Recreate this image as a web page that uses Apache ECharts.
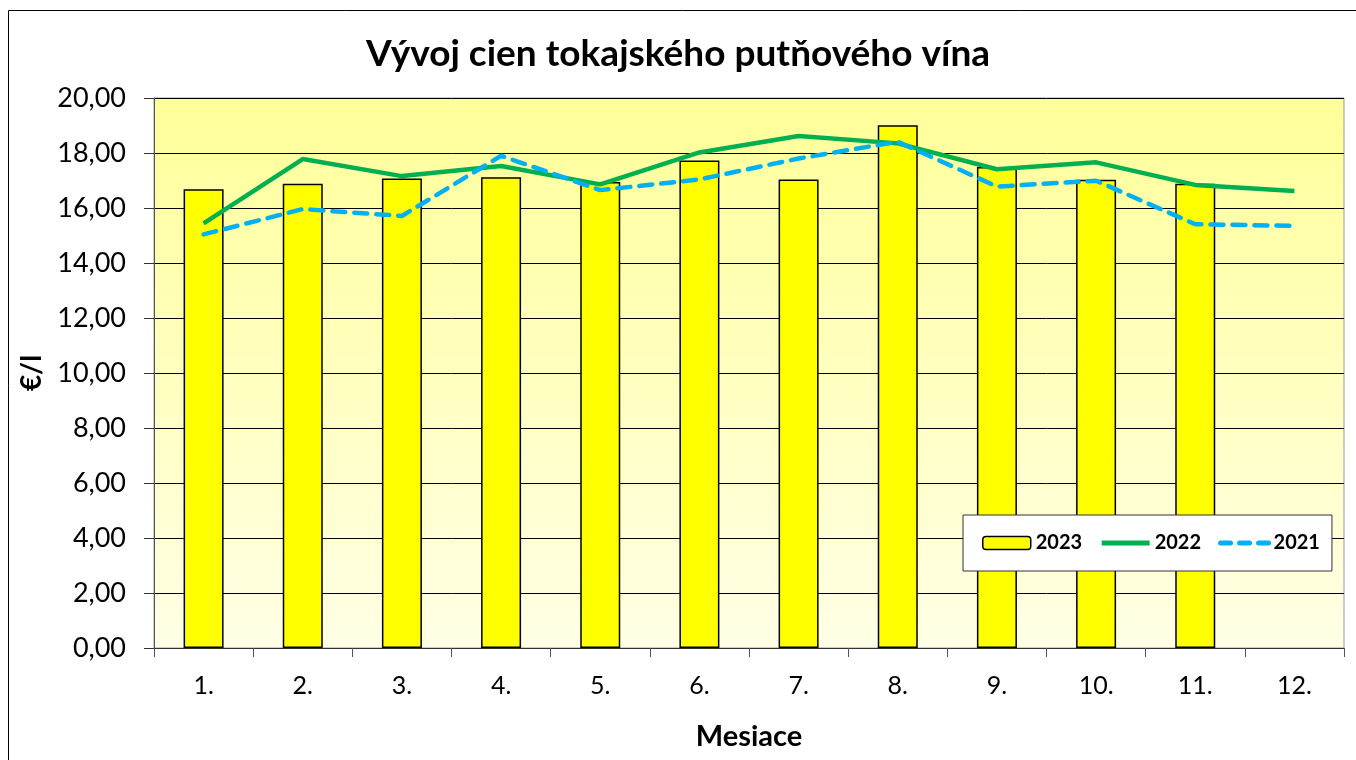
<!DOCTYPE html>
<html>
<head>
<meta charset="utf-8">
<title>Vývoj cien tokajského putňového vína</title>
<script src="https://cdn.jsdelivr.net/npm/echarts@6/dist/echarts.min.js"></script>
<style>
  html, body { margin: 0; padding: 0; background: #fff; }
  #chart { width: 1356px; height: 760px; }
</style>
</head>
<body>
<div id="chart"></div>
<script>
// --- data ---
var months = ['1.', '2.', '3.', '4.', '5.', '6.', '7.', '8.', '9.', '10.', '11.', '12.'];
var price2023 = [16.68, 16.88, 17.07, 17.12, 16.95, 17.73, 17.04, 19.01, 17.49, 17.03, 16.88, null];
var price2022 = [15.44, 17.78, 17.16, 17.53, 16.86, 18.02, 18.62, 18.35, 17.41, 17.66, 16.84, 16.62];
var price2021 = [15.04, 15.96, 15.71, 17.90, 16.65, 17.04, 17.80, 18.41, 16.78, 16.99, 15.41, 15.35];

var FONT = 'Lato, "Open Sans", "DejaVu Sans", sans-serif';

var chart = echarts.init(document.getElementById('chart'));

chart.setOption({
  backgroundColor: '#ffffff',
  animation: false,
  textStyle: { fontFamily: FONT, color: '#000' },
  title: {
    text: 'Vývoj cien tokajského putňového vína',
    left: 'center',
    top: 31,
    textStyle: { fontFamily: FONT, fontSize: 37, fontWeight: 'bold', color: '#000' }
  },
  graphic: [
    {
      // outer chart frame
      type: 'rect',
      shape: { x: 8.5, y: 10.5, width: 1360, height: 760 },
      style: { fill: null, stroke: '#000', lineWidth: 1 },
      silent: true,
      z: -1
    }
  ],
  legend: {
    left: 963,
    top: 515,
    padding: [18, 12, 18, 19],
    itemGap: 17,
    itemWidth: 48,
    itemHeight: 13,
    backgroundColor: '#ffffff',
    borderColor: '#333',
    borderWidth: 1,
    textStyle: { fontFamily: FONT, fontSize: 20, fontWeight: 'bold', color: '#000' },
    data: [
      { name: '2023', itemStyle: { borderWidth: 1.5, borderColor: '#000' } },
      { name: '2022', itemStyle: { opacity: 0 }, lineStyle: { width: 5 } },
      { name: '2021', itemStyle: { opacity: 0 }, lineStyle: { width: 5, type: [10, 9], cap: 'round' } }
    ]
  },
  grid: {
    left: 154,
    right: 12,
    top: 98,
    bottom: 112,
    outerBoundsMode: 'none',
    containLabel: false,
    show: true,
    borderColor: '#999',
    borderWidth: 1,
    backgroundColor: new echarts.graphic.LinearGradient(0, 0, 0, 1, [
      { offset: 0, color: '#ffff99' },
      { offset: 1, color: '#ffffe6' }
    ])
  },
  xAxis: {
    type: 'category',
    data: months,
    name: 'Mesiace',
    nameLocation: 'middle',
    nameGap: 74,
    nameTextStyle: { fontFamily: FONT, fontSize: 29, fontWeight: 'bold', color: '#000' },
    axisLine: { lineStyle: { color: '#333', width: 1 } },
    axisTick: { show: true, length: 9, lineStyle: { color: '#555' } },
    axisLabel: { fontFamily: FONT, fontSize: 25, color: '#000', margin: 25 },
    splitLine: { show: false }
  },
  yAxis: {
    type: 'value',
    min: 0,
    max: 20,
    interval: 2,
    name: '€/l',
    nameLocation: 'middle',
    nameGap: 103,
    nameRotate: 90,
    nameTextStyle: { fontFamily: FONT, fontSize: 28, fontWeight: 'bold', color: '#000' },
    axisLine: { show: true, lineStyle: { color: '#555', width: 1 } },
    axisTick: { show: true, length: 10, inside: false, lineStyle: { color: '#333' } },
    axisLabel: {
      fontFamily: FONT,
      fontSize: 27,
      color: '#000',
      margin: 28,
      formatter: function (v) { return v.toFixed(2).replace('.', ','); }
    },
    splitLine: { show: true, lineStyle: { color: '#000', width: 1 } }
  },
  series: [
    {
      name: '2023',
      type: 'bar',
      data: price2023,
      barWidth: 40,
      itemStyle: { color: '#ffff00', borderColor: '#000', borderWidth: 1.5 },
      z: 2
    },
    {
      name: '2022',
      type: 'line',
      data: price2022,
      symbol: 'none',
      showSymbol: false,
      lineStyle: { color: '#00b050', width: 4.5 },
      itemStyle: { color: '#00b050' },
      z: 3
    },
    {
      name: '2021',
      type: 'line',
      data: price2021,
      symbol: 'none',
      showSymbol: false,
      lineStyle: { color: '#00b0f0', width: 4.5, type: [13, 9], cap: 'round' },
      itemStyle: { color: '#00b0f0' },
      z: 4
    }
  ]
});
</script>
</body>
</html>
